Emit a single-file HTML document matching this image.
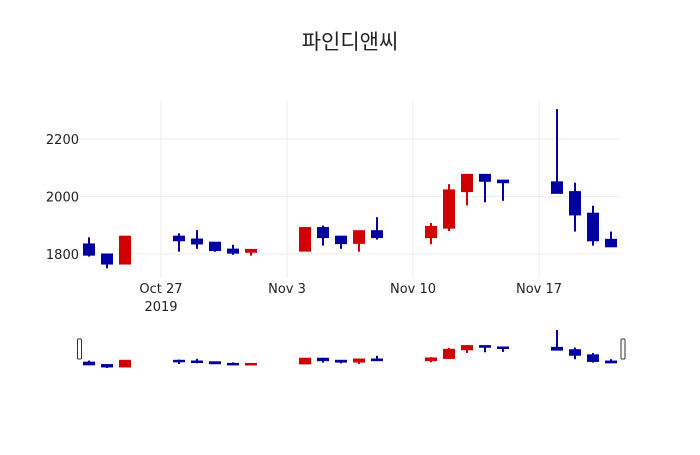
<!DOCTYPE html>
<html><head><meta charset="utf-8">
<style>
html,body{margin:0;padding:0;background:#fff;}
svg text{font-family:"DejaVu Sans","Liberation Sans","Noto Sans CJK KR",sans-serif;}
</style></head>
<body>
<svg id="chart" width="700" height="450" viewBox="0 0 700 450" xmlns="http://www.w3.org/2000/svg">
<text x="350" y="49" text-anchor="middle" font-size="21" fill="#222" font-family="'Noto Sans CJK KR',sans-serif">파인디앤씨</text>
<g id="grid"></g>
<g id="candles"></g>
<g id="slider"></g>
<g id="labels"></g>
</svg>
<script>
const dates = ["2019-10-23","2019-10-24","2019-10-25","2019-10-28","2019-10-29","2019-10-30","2019-10-31","2019-11-01","2019-11-04","2019-11-05","2019-11-06","2019-11-07","2019-11-08","2019-11-11","2019-11-12","2019-11-13","2019-11-14","2019-11-15","2019-11-18","2019-11-19","2019-11-20","2019-11-21"];
const openV  = [1835,1800,1765,1862,1852,1841,1817,1806,1810,1892,1862,1837,1881,1857,1890,2017,2077,2057,2051,2017,1942,1851];
const highV  = [1858,1800,1862,1872,1883,1841,1832,1816,1892,1899,1862,1881,1928,1908,2043,2077,2077,2057,2304,2048,1968,1878];
const lowV   = [1791,1750,1765,1808,1818,1808,1797,1794,1810,1829,1818,1808,1850,1834,1880,1969,1980,1985,2011,1878,1829,1825];
const closeV = [1796,1765,1862,1846,1835,1812,1803,1816,1892,1857,1836,1881,1857,1896,2023,2077,2053,2048,2011,1936,1846,1825];
const yTicks = [1800,2000,2200];
const xTickDates = ["2019-10-27","2019-11-03","2019-11-10","2019-11-17"];
const xTickLabels = ["Oct 27","Nov 3","Nov 10","Nov 17"];

const NS="http://www.w3.org/2000/svg";
const x0=Date.parse("2019-10-22T12:00:00Z"), x1=Date.parse("2019-11-21T12:00:00Z");
const PL=80, PR=620, PT=100, PB=278;
const yMin=1716.5, yMax=2335.7;
const sx=d=>PL+(Date.parse(d+"T00:00:00Z")-x0)/(x1-x0)*(PR-PL);
const sy=v=>PB-(v-yMin)/(yMax-yMin)*(PB-PT);
const SB=369, ST=329, sMin=1735, sMax=2320;
const ssy=v=>SB-(v-sMin)/(sMax-sMin)*(SB-ST);
function mk(tag,attrs,parent){const e=document.createElementNS(NS,tag);for(const k in attrs)e.setAttribute(k,attrs[k]);parent.appendChild(e);return e;}
const grid=document.getElementById('grid'),cg=document.getElementById('candles'),sg=document.getElementById('slider'),lg=document.getElementById('labels');
yTicks.forEach(t=>{
  const l=mk('line',{x1:PL,x2:PR,y1:sy(t),y2:sy(t),stroke:'#eee','stroke-width':1},grid);
  
  
  const tx=mk('text',{x:PL-1,y:sy(t)+5,'text-anchor':'end','font-size':13,fill:'#222'},lg);
  tx.textContent=t;
  
  
});
xTickDates.forEach((d,i)=>{
  const x=sx(d);
  const l=mk('line',{x1:x,x2:x,y1:PT,y2:PB,stroke:'#eee','stroke-width':1},grid);
  
  
  const tx=mk('text',{x:x,y:293,'text-anchor':'middle','font-size':13,fill:'#222'},lg);
  tx.textContent=xTickLabels[i];
  
  
});
const yr=mk('text',{x:sx(xTickDates[0]),y:311,'text-anchor':'middle','font-size':13,fill:'#222'},lg);
yr.textContent="2019";


const hw=5.5;
function drawCandle(g,i,scale){
  const x=sx(dates[i]);const up=closeV[i]>=openV[i];const c=up?'#d10000':'#0000a0';
  const w=mk('line',{x1:x,x2:x,y1:scale(highV[i]),y2:scale(lowV[i]),stroke:c,'stroke-width':2},g);
  
  
  const top=scale(Math.max(openV[i],closeV[i])),bot=scale(Math.min(openV[i],closeV[i]));
  const b=mk('rect',{x:x-hw,y:top,width:2*hw,height:Math.max(bot-top,1.5),fill:c,stroke:c,'stroke-width':1},g);
  
  
}
dates.forEach((d,i)=>{drawCandle(cg,i,sy);drawCandle(sg,i,ssy);});
[[PL-2.5],[PR+1]].forEach((p,k)=>{
  const h=mk('rect',{x:p[0],y:339,width:4,height:20,rx:1,fill:'#fff',stroke:'#333','stroke-width':1},sg);
  
  
});
</script>
</body></html>
